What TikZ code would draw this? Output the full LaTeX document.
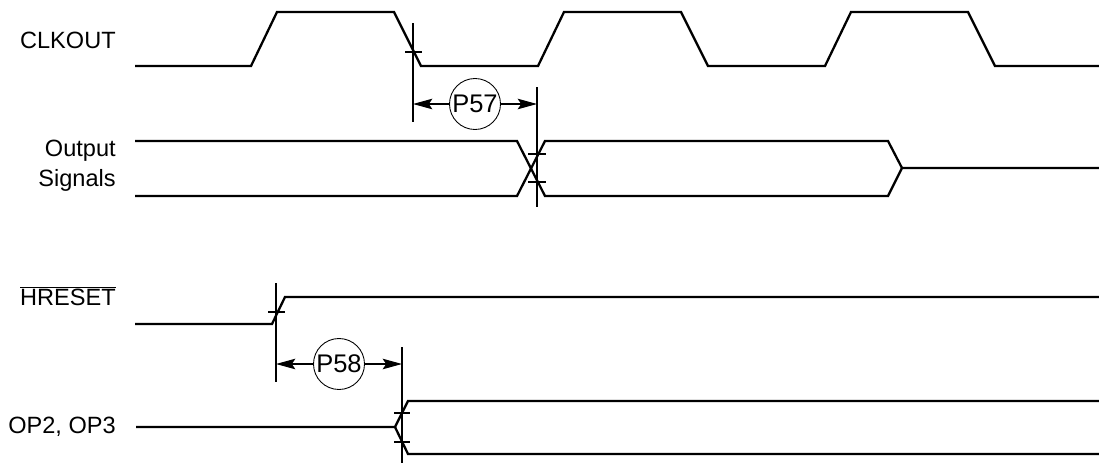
\documentclass[tikz,border=0pt]{standalone}
\usepackage{fontspec}
\setmainfont{Liberation Sans}
\usetikzlibrary{arrows.meta}

\begin{document}
\begin{tikzpicture}[x=0.02cm,y=-0.02cm,>={Stealth[length=11pt,width=6pt,inset=2pt]}]

  \tikzstyle{wave}=[line width=1.3pt,line join=miter]
  \tikzstyle{thin line}=[line width=0.6pt]
  \tikzstyle{signame}=[anchor=east,align=right,inner sep=0pt,
                       font=\fontsize{13.4}{17}\selectfont]
  \tikzstyle{param}=[circle,draw,line width=0.5pt,minimum size=1.02cm,inner sep=0pt,
                     fill=white,font=\fontsize{14.5}{16}\selectfont]

  \useasboundingbox (0,0) rectangle (1099,463);

  % signal names
  \node[signame] (CLK) at (116,40)  {CLKOUT};
  \node[signame] (OUT) at (116,166) {Output\\Signals};
  \node[signame] (HRS) at (116,296) {$\overline{\mbox{HRESET}}$};
  \node[signame] (OPX) at (116,427) {OP2, OP3};

  % CLKOUT
  \draw[wave] (135,66) -- (251,66) -- (277,12) -- (394,12) -- (421,66)
              -- (538,66) -- (564,12) -- (681,12) -- (708,66)
              -- (825,66) -- (851,12) -- (968,12) -- (995,66) -- (1099,66);

  % output signals
  \draw[wave] (135,141) -- (517,141) -- (545,196) -- (888,196) -- (902,168) -- (1099,168);
  \draw[wave] (135,196) -- (517,196) -- (545,141) -- (888,141) -- (902,168);

  % HRESET
  \draw[wave] (135,324) -- (272,324) -- (285,297) -- (1099,297);

  % OP2, OP3
  \draw[wave] (136,427) -- (395,427) -- (408,401) -- (1099,401);
  \draw[wave] (395,427) -- (408,454) -- (1099,454);

  % reference lines
  \coordinate (A1) at (413,23);  \coordinate (A2) at (413,122);
  \coordinate (B1) at (537,87);  \coordinate (B2) at (537,207);
  \coordinate (C1) at (276,283); \coordinate (C2) at (276,382);
  \coordinate (D1) at (402,347); \coordinate (D2) at (402,463);
  \draw[thin line] (A1) -- (A2);
  \draw[thin line] (B1) -- (B2);
  \draw[thin line] (C1) -- (C2);
  \draw[thin line] (D1) -- (D2);

  % crossing ticks
  \draw[thin line] (405,52) -- (422,52);
  \draw[thin line] (528,154) -- (546,154);
  \draw[thin line] (528,182) -- (546,182);
  \draw[thin line] (268,312) -- (285,312);
  \draw[thin line] (394,413) -- (410,413);
  \draw[thin line] (394,442) -- (410,442);

  % timing parameters
  \node[param] (P57) at (475,104) {P57};
  \node[param] (P58) at (339,364) {P58};
  \draw[thin line,->] (P57) -- (P57 -| A1);
  \draw[thin line,->] (P57) -- (P57 -| B1);
  \draw[thin line,->] (P58) -- (P58 -| C1);
  \draw[thin line,->] (P58) -- (P58 -| D1);
\end{tikzpicture}
\end{document}
